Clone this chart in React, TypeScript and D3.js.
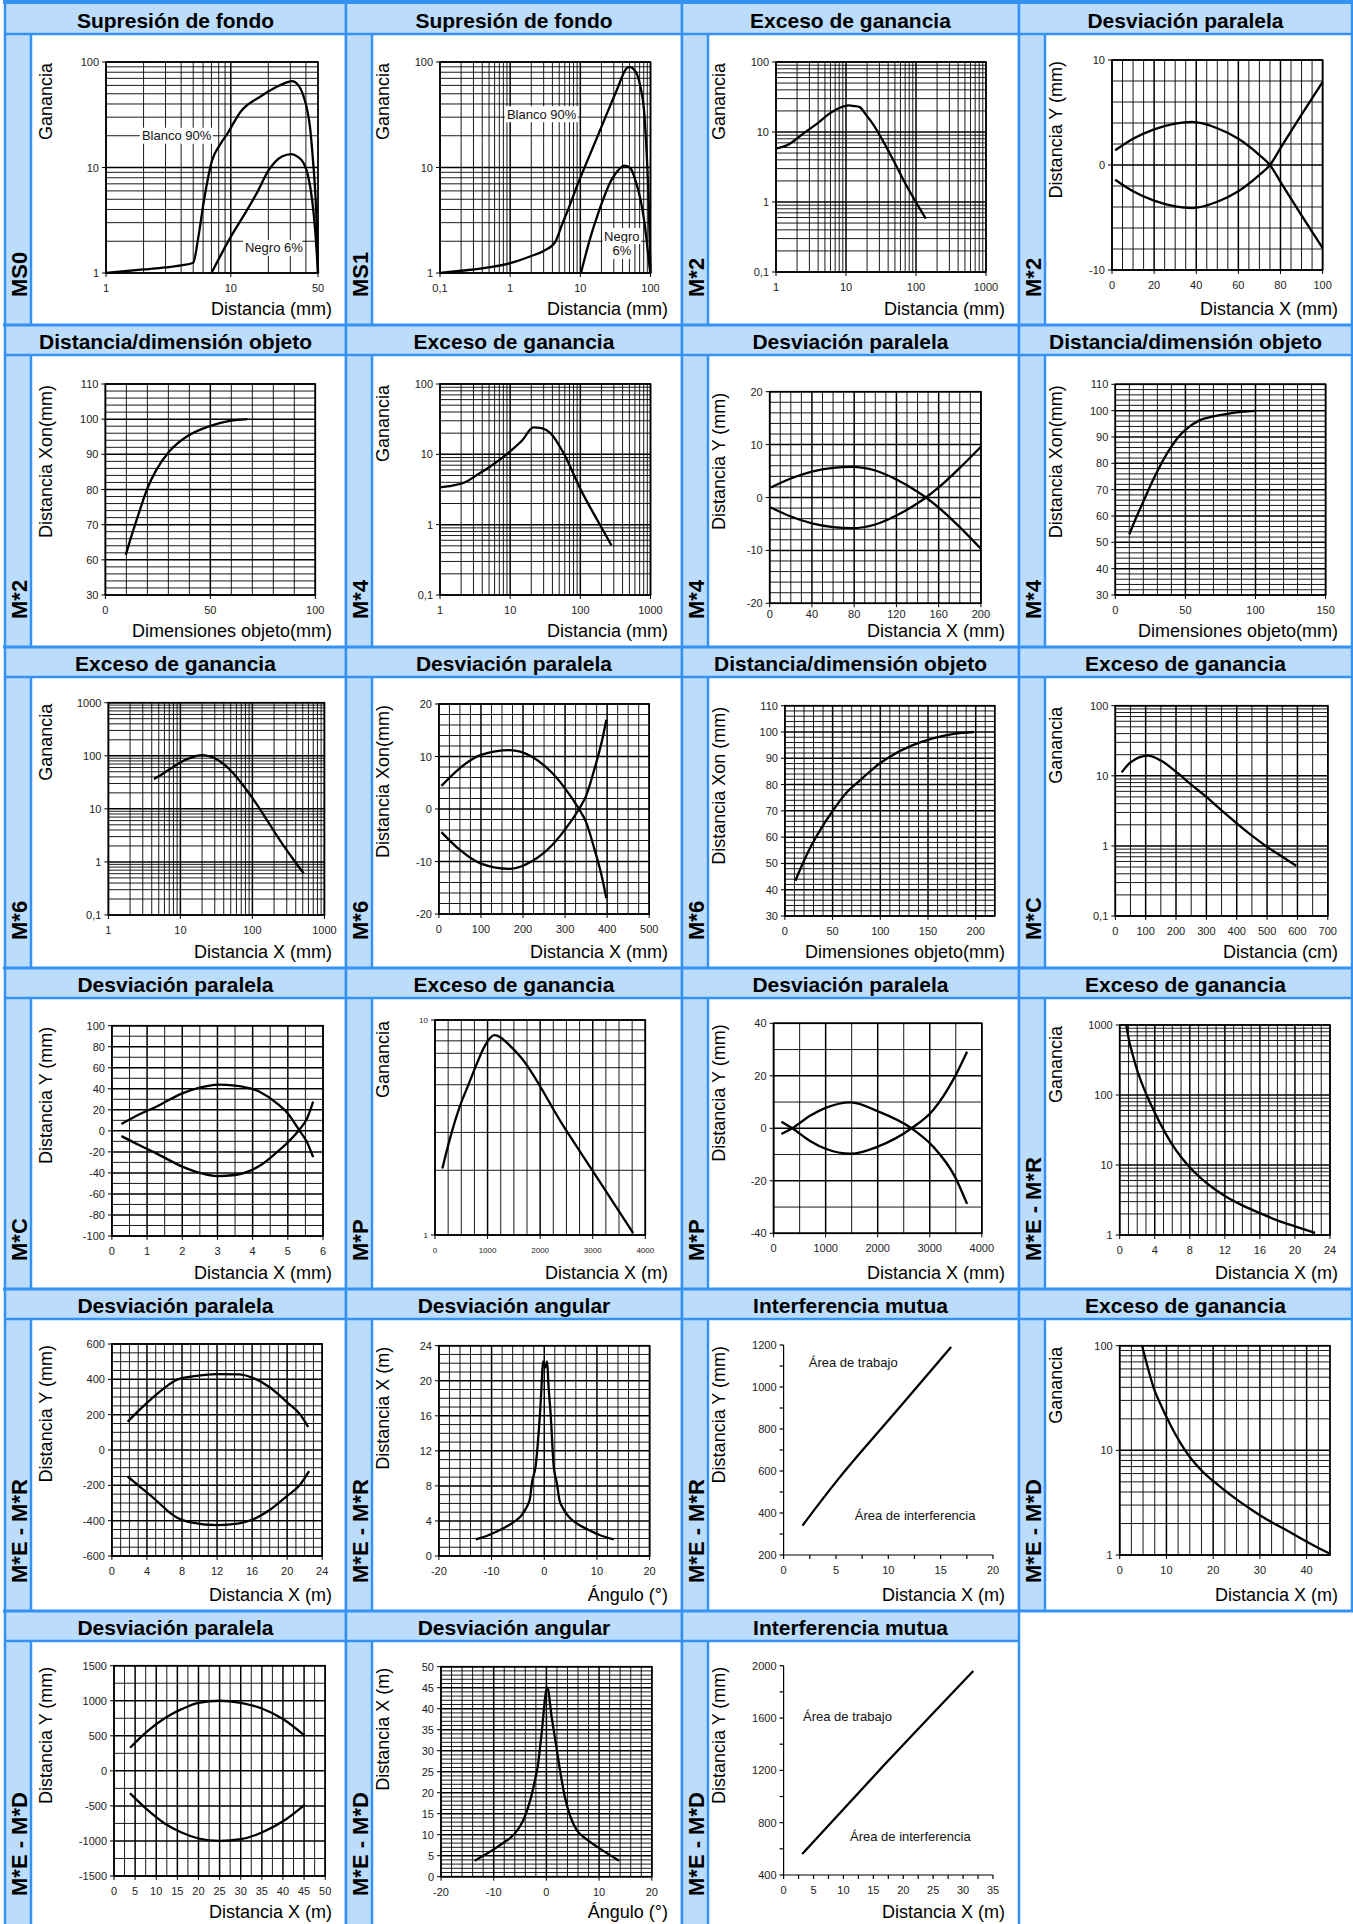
import React from 'react';
import * as d3 from 'd3';

type Pt = [number, number];

// ---- curve data (x, y) ----
const ms0Blanco: Pt[] = [[1, 1], [2, 1.08], [3, 1.13], [4, 1.18], [5, 1.25], [5.5, 2.2], [6.1, 4.9], [7.1, 11.8], [8.2, 16.5], [9.4, 21], [12, 33.8], [17.2, 46.9], [22, 56], [27.8, 63.7], [31, 66], [34.5, 61], [38.4, 47], [41, 35], [43.1, 24.4], [45.5, 12], [47.9, 4.9], [49.3, 2], [50, 1]];
const ms0Negro: Pt[] = [[7, 1], [10, 2.2], [12.5, 3.4], [16, 5.6], [20.2, 9.5], [25.7, 12.7], [30.6, 13.4], [34.5, 12.6], [38.4, 11], [41.5, 8.5], [44.9, 4.9], [47.5, 2.5], [50, 1]];
const ms1Blanco: Pt[] = [[0.1, 1], [0.2, 1.05], [0.5, 1.13], [1, 1.24], [2, 1.45], [3, 1.62], [4.35, 1.95], [5.5, 2.9], [6.8, 4.1], [8.9, 6.6], [13, 12.2], [18, 20.5], [24, 32.6], [33, 54], [45.6, 87], [50, 90], [58, 85], [65, 75], [72, 58], [80.8, 35], [88, 14], [94, 5], [100, 1]];
const ms1Negro: Pt[] = [[10.2, 1], [14, 2.2], [18, 3.7], [27.7, 7.6], [35, 9.5], [42.6, 10.4], [52, 9.8], [60.8, 7.6], [72, 5], [80.8, 3.2], [90, 1.8], [99, 1]];
const m2Gain: Pt[] = [[1, 5.8], [1.5, 6.6], [2.45, 9.5], [4, 13.5], [5.8, 18.3], [8, 22], [10.9, 24], [13, 23.5], [15.7, 22.7], [19, 18], [24, 13.2], [42.4, 4.9], [75, 1.64], [138, 0.58]];
const m2ParA: Pt[] = [[1.5, 1.4], [10, 2.5], [20, 3.4], [30, 3.95], [38, 4.1], [50, 3.5], [60, 2.5], [70, 0.95], [75, 0], [80, -1.6], [90, -4.8], [100, -7.9]];
const m2ParB: Pt[] = [[1.5, -1.4], [10, -2.5], [20, -3.4], [30, -3.95], [38, -4.1], [50, -3.5], [60, -2.5], [70, -0.95], [75, 0], [80, 1.6], [90, 4.8], [100, 7.9]];
const m2Dim: Pt[] = [[9.7, 61.4], [11.8, 65.6], [15.9, 73.2], [20, 80.3], [24.2, 85.5], [30.4, 90.8], [38.6, 95], [49, 97.9], [59.3, 99.5], [67.6, 100]];
const m4Gain: Pt[] = [[1, 3.4], [1.5, 3.6], [2.2, 3.95], [3.5, 5.2], [5.2, 6.7], [10.5, 11.5], [15, 16], [21.4, 24.2], [28, 23.5], [37.8, 19.9], [58, 10.3], [102, 3.1], [180, 1.1], [277, 0.51]];
const m4ParA: Pt[] = [[1, 1.9], [20, 3.6], [40, 4.9], [60, 5.6], [78, 5.8], [100, 5.1], [120, 3.4], [140, 1.1], [148, 0], [160, -1.9], [180, -5.6], [200, -9.7]];
const m4ParB: Pt[] = [[1, -1.9], [20, -3.6], [40, -4.9], [60, -5.6], [78, -5.8], [100, -5.1], [120, -3.4], [140, -1.1], [148, 0], [160, 1.9], [180, 5.6], [200, 9.6]];
const m4Dim: Pt[] = [[10, 53], [15, 59.5], [20, 65.5], [25, 71.5], [30, 77], [35, 82], [40, 86.3], [45, 90], [50, 92.7], [60, 96.3], [70, 97.8], [80, 98.8], [90, 99.5], [100, 99.9]];
const m6Gain: Pt[] = [[4.3, 36.5], [6, 48], [8, 62], [10, 75], [14, 92], [19.7, 103], [25, 98], [30, 90], [42.4, 65], [60, 40], [97, 17], [150, 7], [223, 3], [350, 1.24], [514, 0.61]];
const m6ParA: Pt[] = [[6, 4.4], [50, 7.8], [100, 10.3], [168, 11.2], [220, 10], [270, 6.8], [310, 2.8], [333, 0], [350, -2.5], [369, -7.4], [390, -13.8], [398, -17]];
const m6ParB: Pt[] = [[6, -4.4], [50, -7.8], [100, -10.4], [168, -11.4], [220, -10], [270, -6.8], [310, -2.8], [333, 0], [350, 2.5], [369, 7.4], [390, 13.8], [398, 17]];
const m6Dim: Pt[] = [[11, 43.4], [20, 51], [28, 57], [40, 64.5], [46, 67.8], [64, 76.7], [80, 82], [87, 84.3], [100, 88.2], [110, 90.6], [132, 94.7], [155, 97.6], [177, 99.3], [198, 100]];
const mcGain: Pt[] = [[21, 11.2], [50, 15.5], [107, 19.4], [150, 16.5], [207, 10.8], [250, 7.5], [300, 5], [350, 3.2], [400, 2.1], [450, 1.4], [500, 0.97], [550, 0.7], [596, 0.52]];
const mcParA: Pt[] = [[0.27, 6.5], [0.8, 16], [1.26, 23], [2, 35.7], [2.5, 41], [3, 44], [3.5, 43], [4.21, 37], [4.7, 26], [5, 16.5], [5.32, 0.8], [5.55, -11], [5.72, -25]];
const mcParB: Pt[] = [[0.27, -5], [0.8, -14], [1.26, -21.4], [2, -34], [2.5, -40], [3, -43], [3.5, -42], [4.21, -33], [4.7, -20], [5, -11], [5.32, 0.8], [5.55, 12], [5.72, 27.7]];
const mpGain: Pt[] = [[140, 2.04], [300, 2.9], [470, 3.95], [650, 5.1], [800, 6.3], [950, 7.6], [1130, 8.5], [1250, 8.3], [1400, 7.7], [1625, 6.75], [2450, 3.19], [3027, 1.94], [3770, 1.02]];
const mpParA: Pt[] = [[150, -2.2], [358, 0], [700, 4.8], [1000, 7.8], [1483, 9.9], [2000, 6.5], [2650, 0], [3067, -7], [3483, -18.4], [3717, -28.8]];
const mpParB: Pt[] = [[150, 2.5], [358, 0], [700, -4.8], [1000, -7.8], [1483, -9.7], [2000, -7], [2650, 0], [3067, 7], [3483, 19.7], [3717, 29.2]];
const merGain: Pt[] = [[0.75, 1000], [1, 660], [1.5, 370], [2, 225], [2.5, 150], [3, 105], [3.5, 76], [4, 56], [5, 32], [6, 19.5], [7, 13], [8.4, 8.2], [10, 5.4], [12, 3.6], [14, 2.65], [16, 2.05], [18, 1.62], [20, 1.33], [22.3, 1.07]];
const merParA: Pt[] = [[1.8, 160], [3, 220], [5, 311], [6.5, 370], [7.5, 400], [9, 415], [12, 430], [14.5, 428], [16, 410], [18, 355], [20, 270], [21.5, 200], [22.4, 130]];
const merParB: Pt[] = [[1.8, -150], [3, -200], [5, -283], [6.5, -350], [7.5, -385], [9, -410], [12, -425], [14.5, -415], [16, -395], [18, -340], [20, -260], [21.5, -195], [22.5, -120]];
const merAng: Pt[] = [[-13, 1.9], [-10.5, 2.4], [-8.6, 2.9], [-6.5, 3.6], [-5.5, 4], [-4.5, 4.5], [-3.6, 5.3], [-3, 6], [-2.7, 6.6], [-2.3, 8.5], [-1.65, 10.2], [-1.2, 13], [-0.8, 16.3], [-0.5, 19.5], [-0.25, 22.2], [0.15, 21.5], [0.55, 22.2], [0.8, 19.5], [1.2, 16.3], [1.8, 10.2], [2.4, 8.3], [2.88, 6.4], [3.5, 5.5], [4.5, 4.6], [5.5, 4], [6.5, 3.6], [8.7, 2.9], [10.5, 2.4], [13.2, 1.9]];
const merInt: Pt[] = [[1.8, 340], [5.2, 560], [8.5, 755], [11.8, 945], [16, 1190]];
const medGain: Pt[] = [[4.8, 100], [6, 62], [7.4, 38], [9, 26], [10.2, 20], [12, 14], [14, 10], [16, 7.6], [18, 6.1], [20, 5.1], [22, 4.3], [25, 3.4], [28, 2.75], [30, 2.4], [33, 2], [36, 1.7], [39, 1.42], [42, 1.2], [44.8, 1.04]];
const medParA: Pt[] = [[3.8, 330], [8, 570], [12, 750], [16, 880], [20, 970], [25, 1000], [30, 970], [35, 890], [40, 740], [45.2, 500]];
const medParB: Pt[] = [[3.8, -320], [8, -560], [12, -750], [16, -880], [20, -965], [25, -1000], [30, -975], [35, -880], [40, -720], [45.2, -480]];
const medAng: Pt[] = [[-13.6, 3.8], [-10, 6.5], [-8, 8.2], [-6.6, 9.5], [-5, 12], [-4.1, 14.3], [-3, 18.5], [-2, 24], [-1.65, 26.2], [-1, 33], [0.16, 45.1], [1, 38], [2, 30], [2.47, 26.2], [3.5, 19], [4.5, 14.5], [5.76, 11.1], [7.4, 9.1], [10, 6.8], [13.8, 3.8]];
const medInt: Pt[] = [[3.1, 560], [17, 1250], [31.7, 1960]];

// ---- tick values / labels ----
const ms0XTicks = [1, 10, 50];
const ms1XTicks = [0.1, 1, 10, 100];
const dec1to10 = [1, 10];
const dec1to100 = [1, 10, 100];
const dec01to100 = [0.1, 1, 10, 100];
const dec1to1000 = [1, 10, 100, 1000];
const dec01to1000 = [0.1, 1, 10, 100, 1000];
const x0to100by20 = [0, 20, 40, 60, 80, 100];
const yPm10 = [-10, 0, 10];
const dimX100 = [0, 50, 100];
const m2DimYTicks = [50, 60, 70, 80, 90, 100, 110];
const m2DimYLabels = ['30', '60', '70', '80', '90', '100', '110'];
const x0to200by40 = [0, 40, 80, 120, 160, 200];
const yPm20 = [-20, -10, 0, 10, 20];
const dimX150 = [0, 50, 100, 150];
const dimY30to110 = [30, 40, 50, 60, 70, 80, 90, 100, 110];
const x0to500 = [0, 100, 200, 300, 400, 500];
const dimX200 = [0, 50, 100, 150, 200];
const cmTicks = [0, 100, 200, 300, 400, 500, 600, 700];
const mcXTicks = [0, 1, 2, 3, 4, 5, 6];
const mcYTicks = [-100, -80, -60, -40, -20, 0, 20, 40, 60, 80, 100];
const mpXTicks = [0, 1000, 2000, 3000, 4000];
const mpYTicks = [-40, -20, 0, 20, 40];
const x0to24by4 = [0, 4, 8, 12, 16, 20, 24];
const merYTicks = [-600, -400, -200, 0, 200, 400, 600];
const angXTicks = [-20, -10, 0, 10, 20];
const merAngYTicks = [0, 4, 8, 12, 16, 20, 24];
const int20XTicks = [0, 5, 10, 15, 20];
const int1200YTicks = [200, 400, 600, 800, 1000, 1200];
const med45XTicks = [0, 10, 20, 30, 40];
const med50XTicks = [0, 5, 10, 15, 20, 25, 30, 35, 40, 45, 50];
const medYTicks = [-1500, -1000, -500, 0, 500, 1000, 1500];
const medAngYTicks = [0, 5, 10, 15, 20, 25, 30, 35, 40, 45, 50];
const int35XTicks = [0, 5, 10, 15, 20, 25, 30, 35];
const int2000YTicks = [400, 800, 1200, 1600, 2000];

const BLUE = '#3592f3';
const PALE = '#bcdcfb';
const FONT = '"Liberation Sans", Arial, Helvetica, sans-serif';
const W = 1353;
const H = 1924;
const colLeft = [5, 346, 682, 1019];
const colRight = [346, 682, 1019, 1352];
const rowTop = [4, 325, 647, 968, 1289, 1611];
const HEAD = 30;
const STRIP = 26;
const yLabOff = [41, 37, 37, 37];

const GAN = 'Ganancia';
const DMM = 'Distancia (mm)';
const DXMM = 'Distancia X (mm)';
const DXM = 'Distancia X (m)';
const DYMM = 'Distancia Y (mm)';
const DIM = 'Dimensiones objeto(mm)';
const ANG = 'Ángulo (°)';

const specs: any[] = [
  { title: 'Supresión de fondo', model: 'MS0', yLabel: GAN, xLabel: DMM, plot: [106, 318, 62, 273],
    x: { log: true, domain: [1, 50], ticks: ms0XTicks }, y: { log: true, domain: [1, 100], ticks: dec1to100 },
    lines: [ms0Blanco, ms0Negro],
    notes: [{ text: 'Blanco 90%', x: 1.94, y: 20, box: true }, { text: 'Negro 6%', x: 13, y: 1.73, box: true }] },
  { title: 'Supresión de fondo', model: 'MS1', yLabel: GAN, xLabel: DMM, plot: [440, 650.5, 62, 273],
    x: { log: true, domain: [0.1, 100], ticks: ms1XTicks }, y: { log: true, domain: [1, 100], ticks: dec1to100 },
    lines: [ms1Blanco, ms1Negro],
    notes: [{ text: 'Blanco 90%', x: 0.9, y: 32, box: true }, { text: 'Negro', x: 39, y: 2.24, box: true, mid: true }, { text: '6%', x: 39, y: 1.62, box: true, mid: true }] },
  { title: 'Exceso de ganancia', model: 'M*2', yLabel: GAN, xLabel: DMM, plot: [776, 986, 62, 272],
    x: { log: true, domain: [1, 1000], ticks: dec1to1000 }, y: { log: true, domain: [0.1, 100], ticks: dec01to100 },
    lines: [m2Gain] },
  { title: 'Desviación paralela', model: 'M*2', yLabel: DYMM, xLabel: DXMM, plot: [1112, 1322.6, 60, 270],
    x: { domain: [0, 100], step: 5, ticks: x0to100by20 }, y: { domain: [-10, 10], step: 2, ticks: yPm10 },
    lines: [m2ParA, m2ParB] },

  { title: 'Distancia/dimensión objeto', model: 'M*2', yLabel: 'Distancia Xon(mm)', xLabel: DIM, plot: [105.4, 315.3, 384, 595],
    x: { domain: [0, 100], step: 10, ticks: dimX100 }, y: { domain: [50, 110], step: 2, ticks: m2DimYTicks, labels: m2DimYLabels },
    lines: [m2Dim] },
  { title: 'Exceso de ganancia', model: 'M*4', yLabel: GAN, xLabel: DMM, plot: [440, 650.5, 384, 595],
    x: { log: true, domain: [1, 1000], ticks: dec1to1000 }, y: { log: true, domain: [0.1, 100], ticks: dec01to100 },
    lines: [m4Gain] },
  { title: 'Desviación paralela', model: 'M*4', yLabel: DYMM, xLabel: DXMM, plot: [769.7, 980.9, 391.7, 603.3], tickGap: 11,
    x: { domain: [0, 200], step: 10, ticks: x0to200by40 }, y: { domain: [-20, 20], step: 2, ticks: yPm20 },
    lines: [m4ParA, m4ParB] },
  { title: 'Distancia/dimensión objeto', model: 'M*4', yLabel: 'Distancia Xon(mm)', xLabel: DIM, plot: [1115.3, 1325.6, 384.3, 595],
    x: { domain: [0, 150], step: 10, ticks: dimX150 }, y: { domain: [30, 110], step: 2, ticks: dimY30to110 },
    lines: [m4Dim] },

  { title: 'Exceso de ganancia', model: 'M*6', yLabel: GAN, xLabel: DXMM, plot: [108.4, 324.4, 702.7, 915],
    x: { log: true, domain: [1, 1000], ticks: dec1to1000 }, y: { log: true, domain: [0.1, 1000], ticks: dec01to1000 },
    lines: [m6Gain] },
  { title: 'Desviación paralela', model: 'M*6', yLabel: 'Distancia Xon(mm)', xLabel: DXMM, plot: [438.9, 649.2, 704, 914],
    x: { domain: [0, 500], step: 25, ticks: x0to500 }, y: { domain: [-20, 20], step: 2, ticks: yPm20 },
    lines: [m6ParA, m6ParB] },
  { title: 'Distancia/dimensión objeto', model: 'M*6', yLabel: 'Distancia Xon (mm)', xLabel: DIM, plot: [784.9, 994.8, 705.7, 916],
    x: { domain: [0, 220], step: 10, ticks: dimX200 }, y: { domain: [30, 110], step: 2, ticks: dimY30to110 },
    lines: [m6Dim] },
  { title: 'Exceso de ganancia', model: 'M*C', yLabel: GAN, xLabel: 'Distancia (cm)', plot: [1115.3, 1327.8, 705.7, 916],
    x: { domain: [0, 700], step: 50, ticks: cmTicks }, y: { log: true, domain: [0.1, 100], ticks: dec01to100 },
    lines: [mcGain] },

  { title: 'Desviación paralela', model: 'M*C', yLabel: DYMM, xLabel: DXMM, plot: [111.9, 323, 1025.7, 1236],
    x: { domain: [0, 6], step: 0.5, ticks: mcXTicks }, y: { domain: [-100, 100], step: 10, ticks: mcYTicks },
    lines: [mcParA, mcParB] },
  { title: 'Exceso de ganancia', model: 'M*P', yLabel: GAN, xLabel: DXM, plot: [435, 645.3, 1020, 1235], tickSize: 8,
    x: { domain: [0, 4000], step: 250, ticks: mpXTicks }, y: { log: true, domain: [1, 10], ticks: dec1to10 },
    lines: [mpGain] },
  { title: 'Desviación paralela', model: 'M*P', yLabel: DYMM, xLabel: DXMM, plot: [773.6, 981.8, 1023.3, 1233.3],
    x: { domain: [0, 4000], step: 500, ticks: mpXTicks }, y: { domain: [-40, 40], step: 10, ticks: mpYTicks },
    lines: [mpParA, mpParB] },
  { title: 'Exceso de ganancia', model: 'M*E - M*R', yLabel: GAN, xLabel: DXM, plot: [1119.7, 1330, 1025, 1235],
    x: { domain: [0, 24], step: 1, ticks: x0to24by4 }, y: { log: true, domain: [1, 1000], ticks: dec1to1000 },
    lines: [merGain] },

  { title: 'Desviación paralela', model: 'M*E - M*R', yLabel: DYMM, xLabel: DXM, plot: [111.9, 322.2, 1344, 1556],
    x: { domain: [0, 24], step: 1, ticks: x0to24by4 }, y: { domain: [-600, 600], step: 50, ticks: merYTicks },
    lines: [merParA, merParB] },
  { title: 'Desviación angular', model: 'M*E - M*R', yLabel: DXM, xLabel: ANG, plot: [438.9, 649.6, 1345.7, 1556],
    x: { domain: [-20, 20], step: 2, ticks: angXTicks }, y: { domain: [0, 24], step: 1, ticks: merAngYTicks },
    lines: [merAng] },
  { title: 'Interferencia mutua', model: 'M*E - M*R', yLabel: DYMM, xLabel: DXM, plot: [783.6, 993, 1345, 1555], plain: true,
    x: { domain: [0, 20], minor: 2.5, ticks: int20XTicks }, y: { domain: [200, 1200], minor: 100, ticks: int1200YTicks },
    lines: [merInt],
    notes: [{ text: 'Área de trabajo', x: 2.4, y: 1119 }, { text: 'Área de interferencia', x: 6.8, y: 387 }] },
  { title: 'Exceso de ganancia', model: 'M*E - M*D', yLabel: GAN, xLabel: DXM, plot: [1119.7, 1330, 1345.7, 1555],
    x: { domain: [0, 45], step: 2.5, ticks: med45XTicks }, y: { log: true, domain: [1, 100], ticks: dec1to100 },
    lines: [medGain] },

  { title: 'Desviación paralela', model: 'M*E - M*D', yLabel: DYMM, xLabel: DXM, plot: [114, 325.2, 1665.7, 1876],
    x: { domain: [0, 50], step: 2.5, ticks: med50XTicks }, y: { domain: [-1500, 1500], step: 250, ticks: medYTicks },
    lines: [medParA, medParB] },
  { title: 'Desviación angular', model: 'M*E - M*D', yLabel: DXM, xLabel: ANG, plot: [441, 651.8, 1666.7, 1876.7],
    x: { domain: [-20, 20], step: 2, ticks: angXTicks }, y: { domain: [0, 50], step: 1, ticks: medAngYTicks },
    lines: [medAng] },
  { title: 'Interferencia mutua', model: 'M*E - M*D', yLabel: DYMM, xLabel: DXM, plot: [783.6, 993, 1665.7, 1875], plain: true,
    x: { domain: [0, 35], minor: 2.5, ticks: int35XTicks }, y: { domain: [400, 2000], minor: 200, ticks: int2000YTicks },
    lines: [medInt],
    notes: [{ text: 'Área de trabajo', x: 3.24, y: 1615 }, { text: 'Área de interferencia', x: 11.1, y: 698 }] },
];

const fmt = (v: number) => String(v).replace('.', ',');

function steps(lo: number, hi: number, step: number) {
  const n = Math.round((hi - lo) / step);
  return d3.range(n + 1).map(i => +(lo + i * step).toFixed(6));
}

function logGrid(lo: number, hi: number) {
  const out: number[] = [];
  for (let e = Math.floor(Math.log10(lo)); e <= Math.ceil(Math.log10(hi)); e++) {
    for (let k = 1; k <= 9; k++) {
      const v = +(k * Math.pow(10, e)).toPrecision(6);
      if (v >= lo * 0.999 && v <= hi * 1.001) out.push(v);
    }
  }
  return out;
}

function gridVals(a: any) {
  return a.log ? logGrid(a.domain[0], a.domain[1]) : steps(a.domain[0], a.domain[1], a.step);
}

function isMajor(a: any, v: number) {
  if (a.log) {
    const l = Math.log10(v);
    return Math.abs(l - Math.round(l)) < 1e-6;
  }
  return a.ticks.some((t: number) => Math.abs(t - v) < 1e-9);
}

function Plot({ s }: { s: any }) {
  const [x0, x1, y0, y1] = s.plot;
  const xs: any = s.x.log ? d3.scaleLog().domain(s.x.domain).range([x0, x1]) : d3.scaleLinear().domain(s.x.domain).range([x0, x1]);
  const ys: any = s.y.log ? d3.scaleLog().domain(s.y.domain).range([y1, y0]) : d3.scaleLinear().domain(s.y.domain).range([y1, y0]);
  const gx = s.plain ? [] : gridVals(s.x);
  const gy = s.plain ? [] : gridVals(s.y);
  const line = d3.line<Pt>().x(d => xs(d[0])).y(d => ys(d[1])).curve(d3.curveMonotoneX);
  const fs = s.tickSize || 11;
  const gap = s.tickGap || 15;

  return (
    <g>
      {gx.map((v: number) => (
        <line key={'gx' + v} x1={xs(v)} x2={xs(v)} y1={y0} y2={y1} stroke="#000" strokeWidth={isMajor(s.x, v) ? 1.5 : 0.9} />
      ))}
      {gy.map((v: number) => (
        <line key={'gy' + v} x1={x0} x2={x1} y1={ys(v)} y2={ys(v)} stroke="#000" strokeWidth={isMajor(s.y, v) ? 1.5 : 0.9} />
      ))}
      {!s.plain && <rect x={x0} y={y0} width={x1 - x0} height={y1 - y0} fill="none" stroke="#000" strokeWidth={1.6} />}
      {s.plain && (
        <g stroke="#000" strokeWidth={1.2}>
          <line x1={x0} x2={x0} y1={y0} y2={y1} />
          <line x1={x0} x2={x1} y1={y1} y2={y1} />
          {steps(s.x.domain[0], s.x.domain[1], s.x.minor).map((v: number) => (
            <line key={'mx' + v} x1={xs(v)} x2={xs(v)} y1={y1} y2={y1 + 4} />
          ))}
          {steps(s.y.domain[0], s.y.domain[1], s.y.minor).map((v: number) => (
            <line key={'my' + v} x1={x0 - 4} x2={x0} y1={ys(v)} y2={ys(v)} />
          ))}
        </g>
      )}
      {!s.plain && (
        <g stroke="#000" strokeWidth={1}>
          {s.x.ticks.map((v: number) => <line key={'tx' + v} x1={xs(v)} x2={xs(v)} y1={y1} y2={y1 + 4} />)}
          {s.y.ticks.map((v: number) => <line key={'ty' + v} x1={x0 - 4} x2={x0} y1={ys(v)} y2={ys(v)} />)}
        </g>
      )}
      {s.x.ticks.map((v: number, i: number) => (
        <text key={'lx' + v} x={xs(v)} y={y1 + gap} textAnchor="middle" dominantBaseline="central" fontSize={fs} fill="#222">
          {s.x.labels ? s.x.labels[i] : fmt(v)}
        </text>
      ))}
      {s.y.ticks.map((v: number, i: number) => (
        <text key={'ly' + v} x={x0 - 7} y={ys(v)} textAnchor="end" dominantBaseline="central" fontSize={fs} fill="#222">
          {s.y.labels ? s.y.labels[i] : fmt(v)}
        </text>
      ))}
      {s.lines.map((d: Pt[], i: number) => (
        <path key={'ln' + i} d={line(d) || ''} fill="none" stroke="#000" strokeWidth={2.3} strokeLinejoin="round" />
      ))}
      {(s.notes || []).map((n: any, i: number) => {
        const w = n.text.length * 6.9;
        const tx = xs(n.x);
        const left = n.mid ? tx - w / 2 : tx;
        return (
          <g key={'nt' + i}>
            {n.box && <rect x={left - 2} y={ys(n.y) - 8} width={w + 4} height={16} fill="#fff" />}
            <text x={tx} y={ys(n.y)} textAnchor={n.mid ? 'middle' : 'start'} dominantBaseline="central" fontSize={13} fill="#111">
              {n.text}
            </text>
          </g>
        );
      })}
    </g>
  );
}

function Cell({ s, i }: { s: any; i: number }) {
  const r = Math.floor(i / 4);
  const c = i % 4;
  const L = colLeft[c];
  const R = colRight[c];
  const T = rowTop[r];
  const B = r + 1 < rowTop.length ? rowTop[r + 1] : H;
  const y0 = s.plot[2];
  const labelY = r + 1 < rowTop.length ? B - 10 : B - 6;
  return (
    <g>
      <rect x={L} y={T} width={R - L} height={HEAD} fill={PALE} />
      <rect x={L} y={T + HEAD} width={STRIP} height={B - T - HEAD} fill={PALE} />
      <text x={(L + R) / 2} y={T + HEAD / 2 + 1} textAnchor="middle" dominantBaseline="central" fontWeight="bold" fontSize={21} fill="#000">
        {s.title}
      </text>
      <text transform={`translate(${L + STRIP / 2 + 1},${B - 28}) rotate(-90)`} dominantBaseline="central" fontWeight="bold" fontSize={22} fill="#000">
        {s.model}
      </text>
      <text transform={`translate(${L + yLabOff[c]},${y0 + 1}) rotate(-90)`} textAnchor="end" dominantBaseline="central" fontSize={18} fill="#000">
        {s.yLabel}
      </text>
      <text x={R - 14} y={labelY} textAnchor="end" fontSize={18} fill="#000">
        {s.xLabel}
      </text>
      <Plot s={s} />
      <g stroke={BLUE} strokeWidth={2.5}>
        <line x1={L} x2={L} y1={T} y2={B} />
        <line x1={R} x2={R} y1={T} y2={B} />
        <line x1={L} x2={R} y1={T + HEAD} y2={T + HEAD} />
        <line x1={L + STRIP} x2={L + STRIP} y1={T + HEAD} y2={B} />
      </g>
    </g>
  );
}

export default function App() {
  return (
    <>
      <style>{'body{margin:0}'}</style>
      <svg width={W} height={H} style={{ display: 'block', fontFamily: FONT }}>
        <rect width={W} height={H} fill="#fff" />
        {specs.map((s, i) => <Cell key={i} s={s} i={i} />)}
        <g stroke={BLUE}>
          {rowTop.map((t, r) => (
            <line key={r} x1={colLeft[0] - 2} x2={W} y1={r === 0 ? 2 : t} y2={r === 0 ? 2 : t} strokeWidth={r === 0 ? 4 : 3} />
          ))}
        </g>
      </svg>
    </>
  );
}
